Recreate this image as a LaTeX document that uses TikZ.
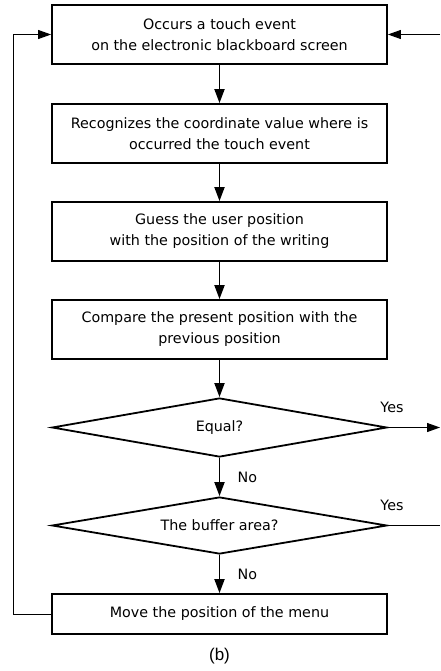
\documentclass[tikz,border=0pt]{standalone}
\usepackage{fontspec}
\setmainfont{DejaVu Sans}
\newfontfamily\capfont{Liberation Sans}
\usetikzlibrary{shapes.geometric,arrows.meta}

\begin{document}
\begin{tikzpicture}[x=1pt,y=-1pt,
		font=\fontsize{14.3}{21}\selectfont,
		stepbox/.style={draw, line width=1.8pt, minimum width=335pt, minimum height=59pt, align=center, inner sep=0pt},
		decide/.style={draw, diamond, aspect=8, line width=1.8pt, minimum width=335pt, minimum height=59pt, inner sep=0pt},
		flow/.style={line width=1.8pt, -{Triangle[length=14pt,width=10pt]}},
		back/.style={line width=1pt, -{Triangle[length=13pt,width=9pt]}}]
		\useasboundingbox (0,0) rectangle (440,671);

		% process steps
		\node (occur) at (219.5,34.5) [stepbox] {Occurs a touch event\\on the electronic blackboard screen};
		\node (recog) at (219.5,133.5) [stepbox] {Recognizes the coordinate value where is\\occurred the touch event};
		\node (guess) at (219.5,231.5) [stepbox] {Guess the user position\\with the position of the writing};
		\node (comp) at (219.5,329.5) [stepbox] {Compare the present position with the\\previous position};

		% decisions
		\node (equal) at (219.5,427.5) [decide] {Equal?};
		\node (buffer) at (219.5,525.5) [decide, minimum height=57pt] {The buffer area?};

		% last step
		\node (move) at (219.5,614) [stepbox, minimum height=40pt] {Move the position of the menu};

		% free ends on the right
		\coordinate (inR) at (440,34.5);
		\coordinate (outE) at (440,427.5);
		\coordinate (outB) at (440,525.5);

		% main flow
		\draw [flow] (occur) -- (recog);
		\draw [flow] (recog) -- (guess);
		\draw [flow] (guess) -- (comp);
		\draw [flow] (comp) -- (equal);
		\draw [flow] (equal) -- (buffer) node [midway, right=14pt] {No};
		\draw [flow] (buffer) -- (move) node [midway, right=14pt] {No};

		% yes branches
		\draw [back] (equal.east) -- (outE);
		\node at (392,407) {Yes};
		\draw [line width=1pt] (buffer.east) -- (outB);
		\node at (392,505) {Yes};
		\draw [back] (inR) -- (occur.east);

		% loop back
		\draw [back] (move.west) -- (13,614) -- (13,34.5) -- (occur.west);

		% caption
		\node [font=\capfont\fontsize{17}{19}\selectfont] at (219.5,656) {(b)};
	\end{tikzpicture}
\end{document}
